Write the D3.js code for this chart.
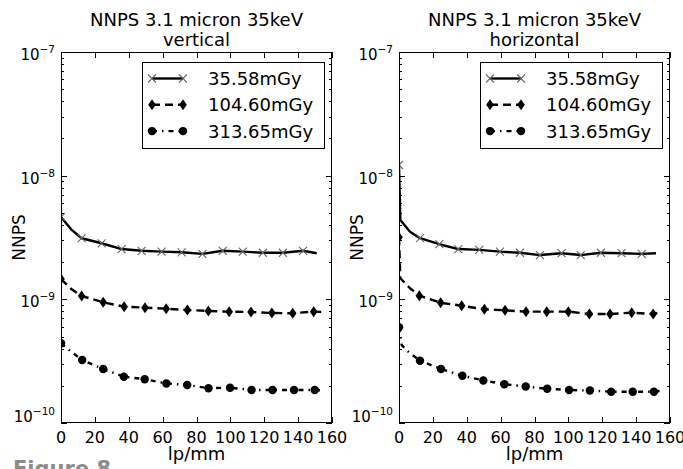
<!DOCTYPE html>
<html>
<head>
<meta charset="utf-8">
<script src="https://cdnjs.cloudflare.com/ajax/libs/d3/7.8.5/d3.min.js"></script>
<style>
  body { margin: 0; background: #fff; }
  text { font-family: "DejaVu Sans", sans-serif; fill: #000; }
</style>
</head>
<body>
<div id="chart"></div>
<script>
// labels
const doses = ["35.58mGy", "104.60mGy", "313.65mGy"];
const panelNames = ["vertical", "horizontal"];
const xTicks = [0, 20, 40, 60, 80, 100, 120, 140, 160];
const yTicks = [1e-10, 1e-9, 1e-8, 1e-7];
const yTickExp = ["\u221210", "\u22129", "\u22128", "\u22127"];

// vertical panel (freq in lp/mm, NNPS, marker shown 1/0)
const vFreq1 = [0, 6.3, 12.2, 24, 35.8, 47.6, 59.4, 71.2, 83.5, 95.5, 107.3, 119.2, 131, 142.9, 151];
const vVal1  = [4.63e-9, 3.64e-9, 3.12e-9, 2.84e-9, 2.55e-9, 2.47e-9, 2.43e-9, 2.40e-9, 2.33e-9, 2.47e-9, 2.43e-9, 2.38e-9, 2.38e-9, 2.47e-9, 2.36e-9];
const vMark1 = [1, 0, 1, 1, 1, 1, 1, 1, 1, 1, 1, 1, 1, 1, 0];

const vFreq2 = [0, 6.3, 12.2, 24.9, 37.3, 49.6, 62.1, 74.6, 87, 99.3, 112.2, 124.5, 136.8, 149.2, 155];
const vVal2  = [1.46e-9, 1.205e-9, 1.064e-9, 9.46e-10, 8.72e-10, 8.56e-10, 8.40e-10, 8.20e-10, 8.05e-10, 7.95e-10, 7.90e-10, 7.75e-10, 7.72e-10, 7.95e-10, 7.9e-10];
const vMark2 = [1, 0, 1, 1, 1, 1, 1, 1, 1, 1, 1, 1, 1, 1, 0];

const vFreq3 = [0, 4.3, 12.5, 24.9, 37.1, 49.4, 62.2, 74.5, 87.1, 99.8, 112.5, 124.9, 137.6, 149.8, 155.3];
const vVal3  = [4.41e-10, 3.94e-10, 3.23e-10, 2.73e-10, 2.37e-10, 2.26e-10, 2.09e-10, 2.03e-10, 1.91e-10, 1.93e-10, 1.85e-10, 1.85e-10, 1.85e-10, 1.85e-10, 1.83e-10];
const vMark3 = [1, 0, 1, 1, 1, 1, 1, 1, 1, 1, 1, 1, 1, 1, 0];

// horizontal panel
const hFreq1 = [0, 0.8, 6.5, 12.4, 23.8, 35, 47.4, 59.6, 71.4, 83.2, 96, 107.3, 119.2, 131.4, 143.3, 151.7];
const hVal1  = [1.22e-8, 4.38e-9, 3.52e-9, 3.12e-9, 2.79e-9, 2.55e-9, 2.51e-9, 2.43e-9, 2.38e-9, 2.28e-9, 2.36e-9, 2.28e-9, 2.38e-9, 2.36e-9, 2.33e-9, 2.36e-9];
const hMark1 = [1, 0, 0, 1, 1, 1, 1, 1, 1, 1, 1, 1, 1, 1, 1, 0];

const hFreq2 = [0, 0.8, 6.5, 12, 24.6, 37, 50.4, 62.6, 75, 87.2, 100, 112.4, 124.6, 137.4, 150.1, 154.5];
const hVal2  = [3.18e-9, 1.48e-9, 1.23e-9, 1.07e-9, 9.39e-10, 8.88e-10, 8.31e-10, 8.15e-10, 7.95e-10, 7.95e-10, 7.95e-10, 7.61e-10, 7.61e-10, 7.8e-10, 7.61e-10, 7.9e-10];
const hMark2 = [1, 0, 0, 1, 1, 1, 1, 1, 1, 1, 1, 1, 1, 1, 1, 0];

const hFreq3 = [0, 1.6, 5.5, 12.4, 24.8, 37.4, 49.8, 62.2, 74.8, 87.5, 100.4, 112.7, 125.3, 138, 150.5, 156];
const hVal3  = [5.94e-10, 4.27e-10, 3.77e-10, 3.19e-10, 2.73e-10, 2.41e-10, 2.21e-10, 2.06e-10, 1.97e-10, 1.89e-10, 1.85e-10, 1.83e-10, 1.79e-10, 1.79e-10, 1.79e-10, 1.83e-10];
const hMark3 = [1, 0, 0, 1, 1, 1, 1, 1, 1, 1, 1, 1, 1, 1, 1, 0];

const toPts = (f, v, m) => f.map((d, i) => ({ f: d, v: v[i], m: m[i] }));
const panelSeries = [
  [toPts(vFreq1, vVal1, vMark1), toPts(vFreq2, vVal2, vMark2), toPts(vFreq3, vVal3, vMark3)],
  [toPts(hFreq1, hVal1, hMark1), toPts(hFreq2, hVal2, hMark2), toPts(hFreq3, hVal3, hMark3)]
];

const width = 683, height = 469;
const lefts = [61, 399], plotW = 271, plotTop = 52, plotBottom = 423;

const styles = [
  { dash: null, marker: "x" },
  { dash: "8,5", marker: "d" },
  { dash: "5,5,1.5,5", marker: "o" }
];
const shapes = {
  x: "M-4,-4L4,4M-4,4L4,-4",
  d: "M0,-5.5L3.8,0L0,5.5L-3.8,0Z",
  o: d3.symbol(d3.symbolCircle, 56)()
};

function drawMarks(g, type, pts, px, py) {
  const s = g.selectAll(null).data(pts).join("path")
    .attr("transform", d => `translate(${px(d)},${py(d)})`)
    .attr("d", shapes[type]);
  if (type === "x") s.attr("fill", "none").attr("stroke", "#666").attr("stroke-width", 1.1);
  else s.attr("fill", "#000");
}

const svg = d3.select("#chart").append("svg")
  .attr("width", width)
  .attr("height", height);
svg.append("rect").attr("width", width).attr("height", height).attr("fill", "#fff");

const y = d3.scaleLog().domain([1e-10, 1e-7]).range([plotBottom, plotTop]);
const minorY = [];
[-10, -9, -8].forEach(e => d3.range(2, 10).forEach(m => minorY.push(m * Math.pow(10, e))));

panelNames.forEach((name, p) => {
  const x0 = lefts[p], x1 = x0 + plotW;
  const x = d3.scaleLinear().domain([0, 160]).range([x0, x1]);
  const cx = (x0 + x1) / 2;
  const g = svg.append("g");

  g.append("clipPath").attr("id", "clip" + p)
    .append("rect").attr("x", x0).attr("y", plotTop).attr("width", plotW).attr("height", plotBottom - plotTop);

  const plot = g.append("g").attr("clip-path", `url(#clip${p})`);
  const line = d3.line().x(d => x(d.f)).y(d => y(d.v));

  panelSeries[p].forEach((pts, k) => {
    plot.append("path")
      .attr("d", line(pts))
      .attr("fill", "none")
      .attr("stroke", "#000")
      .attr("stroke-width", 2.4)
      .attr("stroke-linejoin", "round")
      .attr("stroke-dasharray", styles[k].dash);
    drawMarks(plot, styles[k].marker, pts.filter(d => d.m), d => x(d.f), d => y(d.v));
  });

  // frame
  g.append("rect")
    .attr("x", x0 + 0.5).attr("y", plotTop + 0.5)
    .attr("width", plotW - 1).attr("height", plotBottom - plotTop - 1)
    .attr("fill", "none").attr("stroke", "#000").attr("stroke-width", 1);

  // x ticks (bottom and top)
  xTicks.forEach(t => {
    const xp = Math.round(x(t)) + 0.5;
    g.append("line").attr("x1", xp).attr("x2", xp).attr("y1", plotBottom).attr("y2", plotBottom - 6).attr("stroke", "#000");
    g.append("line").attr("x1", xp).attr("x2", xp).attr("y1", plotTop).attr("y2", plotTop + 6).attr("stroke", "#000");
    g.append("text").attr("x", x(t)).attr("y", 443)
      .attr("text-anchor", "middle").attr("font-size", 16).text(t);
  });

  // y ticks (left and right)
  yTicks.forEach((t, i) => {
    const yp = Math.round(y(t)) + 0.5;
    g.append("line").attr("x1", x0).attr("x2", x0 + 6).attr("y1", yp).attr("y2", yp).attr("stroke", "#000");
    g.append("line").attr("x1", x1).attr("x2", x1 - 6).attr("y1", yp).attr("y2", yp).attr("stroke", "#000");
    const lab = g.append("text")
      .attr("x", x0 - 6)
      .attr("y", y(t) + (t === 1e-10 ? -1 : 8))
      .attr("text-anchor", "end")
      .attr("font-size", 15);
    lab.append("tspan").text("10");
    lab.append("tspan").attr("dy", -7).attr("font-size", 10.5).text(yTickExp[i]);
  });
  minorY.forEach(t => {
    const yp = Math.round(y(t)) + 0.5;
    g.append("line").attr("x1", x0).attr("x2", x0 + 3).attr("y1", yp).attr("y2", yp).attr("stroke", "#000");
    g.append("line").attr("x1", x1).attr("x2", x1 - 3).attr("y1", yp).attr("y2", yp).attr("stroke", "#000");
  });

  // titles and axis labels
  g.append("text").attr("x", cx).attr("y", 26).attr("text-anchor", "middle")
    .attr("font-size", 18).text("NNPS 3.1 micron 35keV");
  g.append("text").attr("x", cx).attr("y", 46).attr("text-anchor", "middle")
    .attr("font-size", 18).text(name);
  g.append("text").attr("x", cx).attr("y", 460).attr("text-anchor", "middle")
    .attr("font-size", 18).text("lp/mm");
  g.append("text")
    .attr("transform", `translate(${x0 - 36},${(plotTop + plotBottom) / 2}) rotate(-90)`)
    .attr("text-anchor", "middle").attr("font-size", 17).text("NNPS");

  // legend
  const bw = 182, bh = 86, bx = x1 - 8 - bw, by = plotTop + 10;
  const lg = g.append("g");
  lg.append("rect")
    .attr("x", Math.round(bx) + 0.5).attr("y", by + 0.5)
    .attr("width", bw).attr("height", bh)
    .attr("fill", "#fff").attr("stroke", "#000").attr("stroke-width", 1);
  doses.forEach((d, k) => {
    const ry = by + 16.5 + k * 26.3;
    const sx0 = bx + 10, sx1 = bx + 41;
    lg.append("line")
      .attr("x1", sx0).attr("x2", sx1).attr("y1", ry).attr("y2", ry)
      .attr("stroke", "#000").attr("stroke-width", 2.4)
      .attr("stroke-dasharray", styles[k].dash);
    drawMarks(lg, styles[k].marker, [sx0, sx1], d => d, () => ry);
    lg.append("text").attr("x", bx + 66).attr("y", ry).attr("dy", "0.36em")
      .attr("font-size", 18).text(d);
  });
});

// cropped caption at the bottom
svg.append("text")
  .attr("x", 13).attr("y", 476)
  .attr("font-family", "'Open Sans', sans-serif")
  .attr("font-weight", "bold")
  .attr("font-size", 21)
  .style("fill", "#8c8c8c")
  .text("Figure 8");
</script>
</body>
</html>
